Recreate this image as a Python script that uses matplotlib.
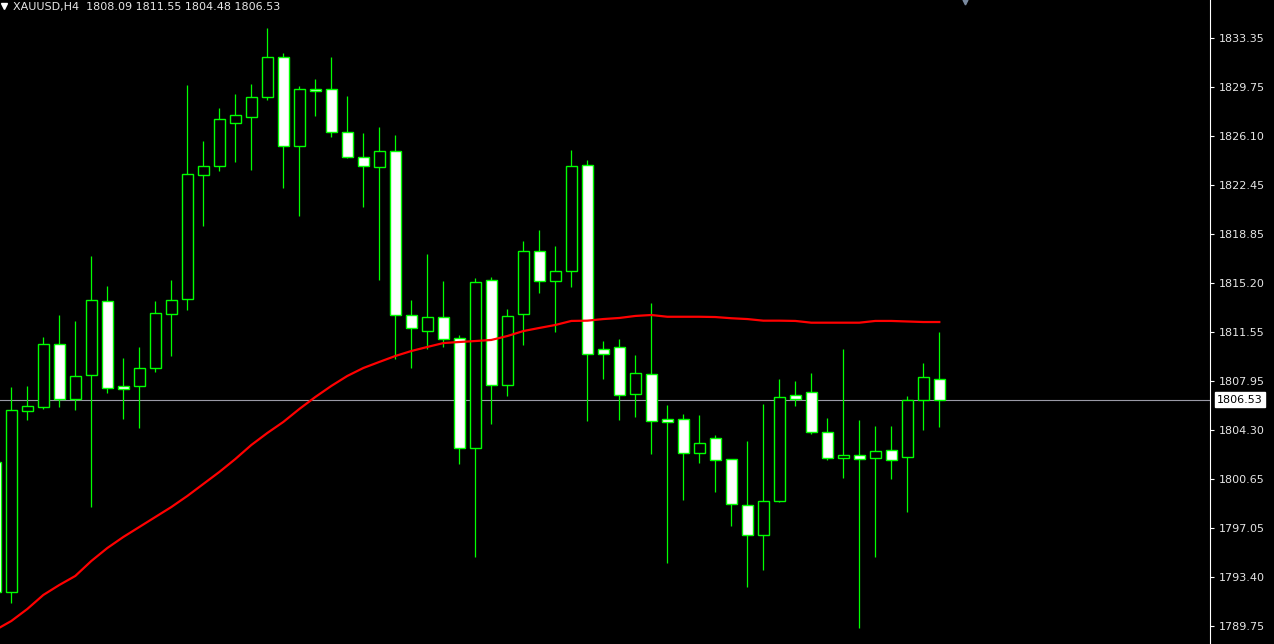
import matplotlib
matplotlib.use("Agg")
import matplotlib.pyplot as plt
from matplotlib.patches import Rectangle
from matplotlib.transforms import blended_transform_factory
import numpy as np

symbol = "XAUUSD,H4"
last_ohlc = [1808.09, 1811.55, 1804.48, 1806.53]
last_price = 1806.53

opens = [1801.91, 1792.29, 1805.71, 1806.01, 1810.64, 1806.56, 1808.34, 1813.83, 1807.52, 1807.57,
         1808.90, 1812.91, 1813.98, 1823.17, 1823.84, 1827.03, 1827.52, 1828.95, 1831.92, 1825.32,
         1829.55, 1829.55, 1826.36, 1824.50, 1823.81, 1824.95, 1812.79, 1811.60, 1812.64, 1811.08,
         1802.93, 1815.38, 1807.60, 1812.86, 1817.53, 1815.31, 1816.05, 1823.91, 1810.27, 1810.42,
         1806.93, 1808.41, 1805.08, 1805.08, 1802.56, 1803.67, 1802.11, 1798.70, 1796.48, 1799.00,
         1806.86, 1807.08, 1804.11, 1802.19, 1802.41, 1802.19, 1802.78, 1802.26, 1806.49, 1808.09]
highs = [1802.00, 1807.47, 1807.55, 1811.18, 1812.81, 1812.37, 1817.19, 1814.96, 1809.62, 1810.44,
         1813.85, 1815.41, 1829.84, 1825.71, 1828.16, 1829.20, 1829.94, 1834.09, 1832.24, 1829.79,
         1830.31, 1831.94, 1829.05, 1826.31, 1826.75, 1826.16, 1813.92, 1817.33, 1815.33, 1811.33,
         1815.55, 1815.63, 1813.26, 1818.30, 1819.11, 1817.93, 1825.05, 1824.30, 1810.88, 1811.03,
         1809.84, 1813.70, 1806.14, 1805.47, 1805.40, 1803.91, 1802.11, 1803.47, 1806.21, 1808.07,
         1807.92, 1808.51, 1805.17, 1810.29, 1805.03, 1804.58, 1804.58, 1806.80, 1809.25, 1811.55]
lows = [1792.20, 1791.48, 1805.03, 1805.84, 1806.01, 1805.79, 1798.60, 1807.05, 1805.10, 1804.45,
        1808.61, 1809.77, 1813.20, 1819.43, 1823.51, 1824.18, 1823.59, 1828.78, 1822.25, 1820.17,
        1827.59, 1826.03, 1824.45, 1820.84, 1815.43, 1809.53, 1808.90, 1810.29, 1810.46, 1801.78,
        1794.89, 1804.75, 1806.83, 1810.59, 1814.46, 1811.57, 1814.91, 1804.97, 1808.09, 1805.05,
        1805.27, 1802.53, 1794.44, 1799.12, 1801.86, 1799.71, 1797.19, 1792.66, 1793.92, 1798.92,
        1806.09, 1803.96, 1802.04, 1800.75, 1789.62, 1794.89, 1800.67, 1798.23, 1804.31, 1804.48]
closes = [1792.27, 1805.74, 1806.04, 1810.64, 1806.56, 1808.27, 1813.90, 1807.38, 1807.35, 1808.86,
          1812.94, 1813.90, 1823.24, 1823.84, 1827.32, 1827.62, 1828.95, 1831.92, 1825.32, 1829.55,
          1829.40, 1826.36, 1824.50, 1823.84, 1824.95, 1812.79, 1811.82, 1812.64, 1811.01, 1802.93,
          1815.24, 1807.60, 1812.71, 1817.53, 1815.31, 1816.05, 1823.84, 1809.90, 1809.90, 1806.86,
          1808.49, 1804.93, 1804.85, 1802.56, 1803.30, 1802.04, 1798.77, 1796.48, 1799.00, 1806.71,
          1806.58, 1804.11, 1802.19, 1802.41, 1802.11, 1802.70, 1802.04, 1806.49, 1808.19, 1806.53]
ma_values = [1789.45, 1790.12, 1791.01, 1792.05, 1792.79, 1793.46, 1794.57, 1795.53, 1796.35, 1797.09,
             1797.83, 1798.57, 1799.39, 1800.28, 1801.17, 1802.13, 1803.17, 1804.06, 1804.88, 1805.84,
             1806.73, 1807.55, 1808.29, 1808.88, 1809.33, 1809.77, 1810.14, 1810.44, 1810.73, 1810.81,
             1810.88, 1810.96, 1811.25, 1811.62, 1811.85, 1812.07, 1812.37, 1812.39, 1812.51, 1812.59,
             1812.74, 1812.81, 1812.68, 1812.68, 1812.68, 1812.66, 1812.57, 1812.51, 1812.39, 1812.39,
             1812.37, 1812.24, 1812.24, 1812.24, 1812.24, 1812.37, 1812.37, 1812.33, 1812.29, 1812.29]
ytick_vals = [1833.35, 1829.75, 1826.10, 1822.45, 1818.85, 1815.20, 1811.55, 1807.95,
              1804.30, 1800.65, 1797.05, 1793.40, 1789.75]

W, H = 1274, 644
AX_W = 1210
fig = plt.figure(figsize=(W / 100, H / 100), dpi=100, facecolor="black")
ax = fig.add_axes([0, 0, AX_W / W, 1])
ax.set_facecolor("black")

xs = np.arange(len(opens))
GREEN = "#00ff00"

# bid line
ax.axhline(last_price, color="#9a9aa6", lw=0.8, zorder=1)

# wicks
ax.vlines(xs, lows, highs, color=GREEN, lw=0.9, zorder=2)

# bodies
bw = 0.66
for x, o, c in zip(xs, opens, closes):
    bull = c >= o
    lo = min(o, c)
    h = max(abs(c - o), 0.02)
    ax.add_patch(Rectangle((x - bw / 2, lo), bw, h,
                           facecolor="black" if bull else "white",
                           edgecolor=GREEN, lw=1.0, zorder=3))

# moving average
ax.plot(xs, ma_values, color="#ff0000", lw=1.6, zorder=4)

# scales: candle j centre at pixel -4.7 + 16*j
ax.set_xlim(4.7 / 16, (AX_W + 4.7) / 16)
ax.set_ylim(1788.415, 1836.168)

for s in ["top", "left", "bottom"]:
    ax.spines[s].set_visible(False)
ax.spines["right"].set_color("white")
ax.spines["right"].set_linewidth(0.8)
ax.set_xticks([])
ax.yaxis.tick_right()
ax.set_yticks(ytick_vals)
ax.set_yticklabels([f"{v:.2f}" for v in ytick_vals])
ax.tick_params(axis="y", colors="white", labelcolor="#e6e6e6", length=3,
               width=0.8, pad=3, labelsize=8)

# current price label
tr = blended_transform_factory(fig.transFigure, ax.transData)
fig.patches.append(Rectangle((1212 / W, 0), 56 / W, 1, transform=fig.transFigure,
                             facecolor="none", edgecolor="none"))
ax.text(1.0 + 7 / AX_W, last_price, f"{last_price:.2f}",
        transform=blended_transform_factory(ax.transAxes, ax.transData),
        va="center", ha="left", fontsize=8, color="black", clip_on=False, zorder=10,
        bbox=dict(boxstyle="square,pad=0.22", facecolor="white", edgecolor="white"))

# header
fig.text(13 / W, 1 - 7 / H,
         f"{symbol}  " + " ".join(f"{v:.2f}" for v in last_ohlc),
         color="#e6e6e6", fontsize=8, va="center", ha="left")
ax.plot([3.5 / AX_W], [1 - 6 / H], marker="v", ms=4.5, color="white",
        transform=ax.transAxes, clip_on=False)
ax.plot([965 / AX_W], [1 - 1.5 / H], marker="v", ms=3.5, color="#7a8aa0",
        transform=ax.transAxes, clip_on=False)

fig.savefig("out.png", dpi=100, facecolor="black")
